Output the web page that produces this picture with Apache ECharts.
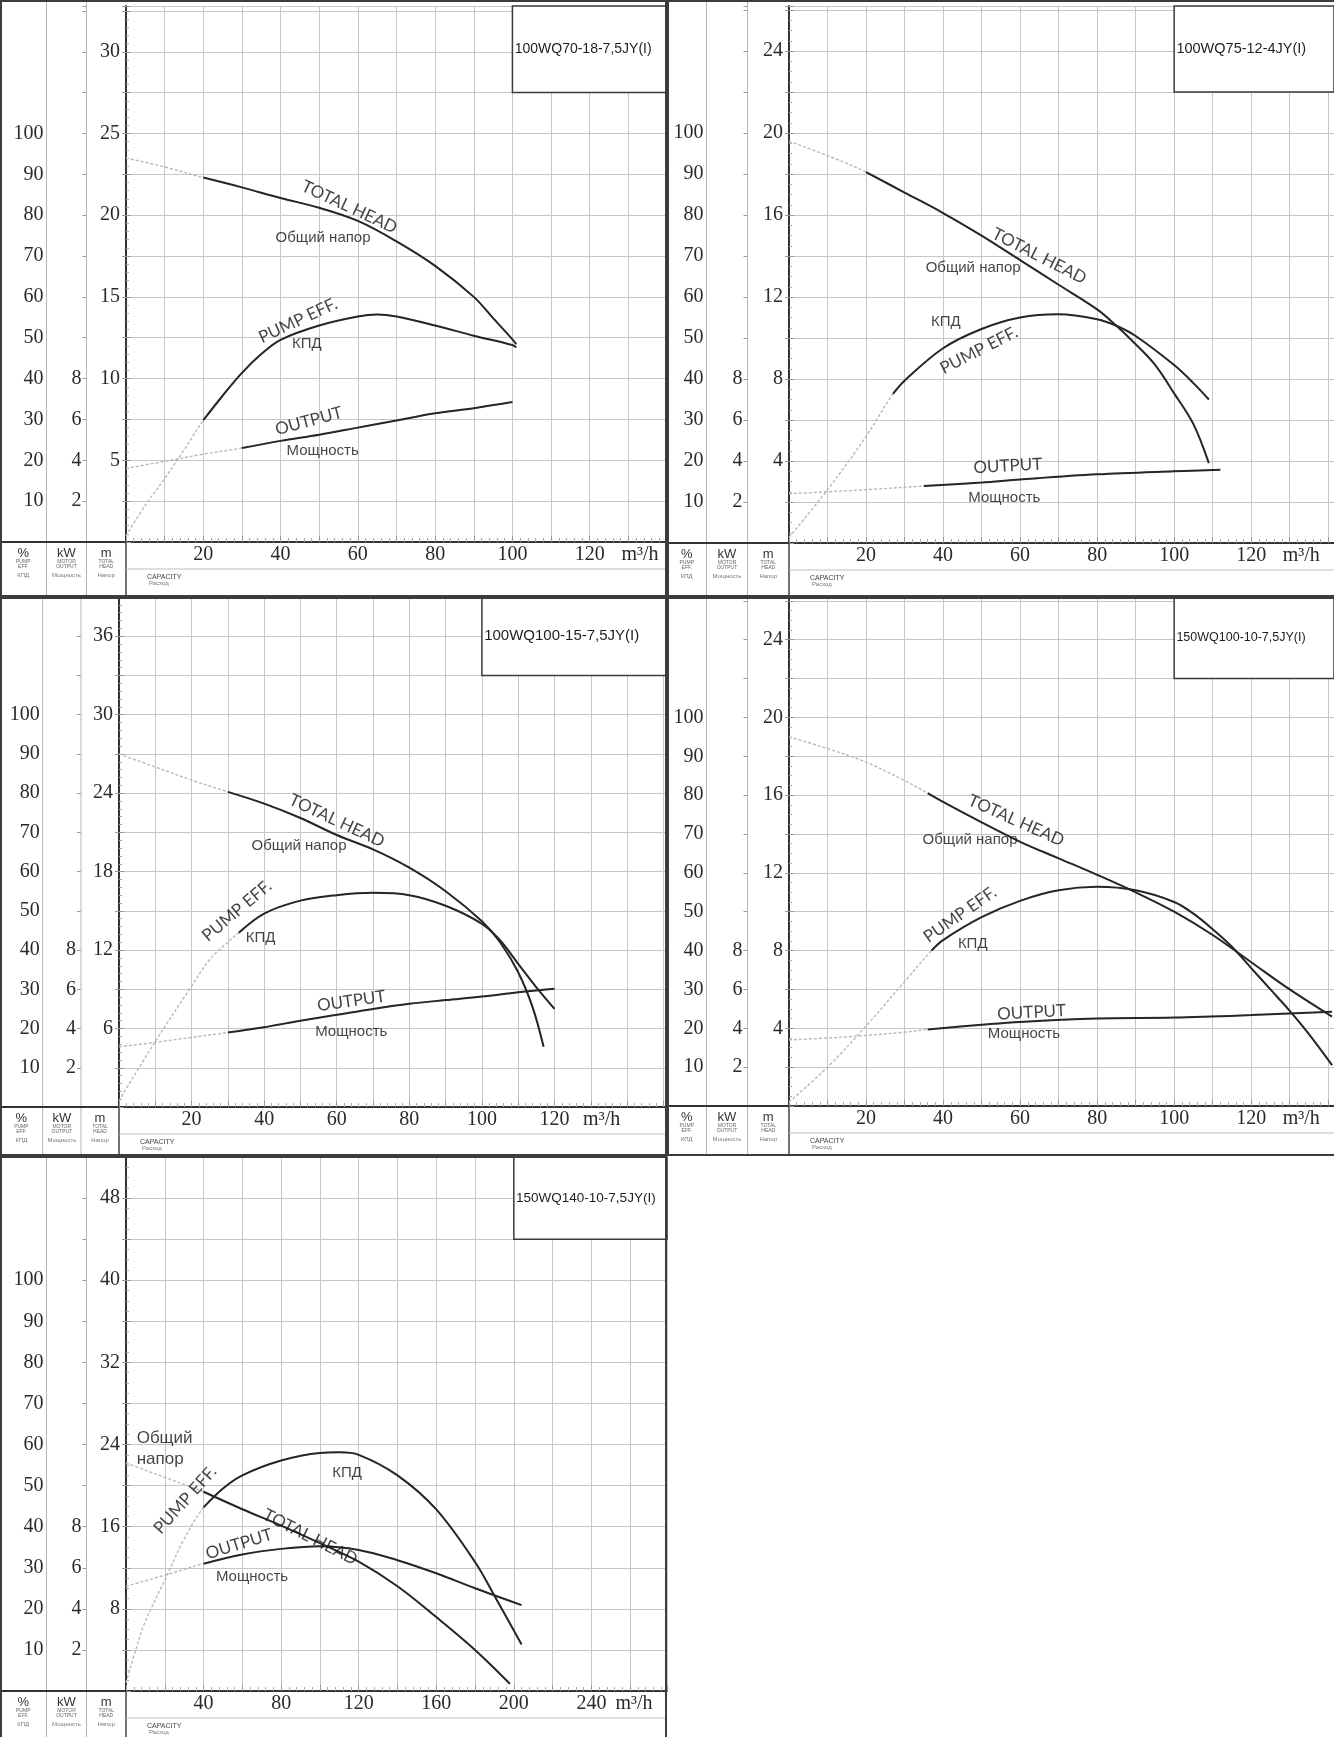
<!DOCTYPE html>
<html><head><meta charset="utf-8">
<script src="https://cdn.jsdelivr.net/npm/echarts@6/dist/echarts.min.js"></script>
<style>html,body{margin:0;padding:0;background:#fff}#c{width:1334px;height:1737px}</style>
</head><body><div id="c"></div>
<script>
// ================= DATA =================
// shared tick labels
const pctTicks = [10,20,30,40,50,60,70,80,90,100];
const kwTicks = [2,4,6,8];

// Panel 1: 100WQ70-18-7,5JY(I)
const p1Model = '100WQ70-18-7,5JY(I)';
const p1HeadQ = [0,10,20,30,40,50,60,70,80,90,95,100,101];
const p1HeadM = [23.5,22.95,22.3,21.7,21.05,20.45,19.65,18.4,16.9,15.0,13.7,12.4,12.1];
const p1EffQ  = [0,5,10,15,20,25,30,35,40,50,60,65,70,80,90,100,101];
const p1EffP  = [1.5,9,15.5,22.5,29.8,35.8,41.4,46,49.5,53,55.2,55.7,55.2,53,50.5,48.2,47.6];
const p1PowQ  = [0,10,20,30,40,50,60,70,80,90,100];
const p1PowK  = [3.6,3.95,4.3,4.6,4.95,5.25,5.6,5.95,6.3,6.55,6.85];
const p1SolidFrom = [20,20,30];           // head, eff, power
const p1XTicks = [20,40,60,80,100,120];
const p1HeadTicks = [5,10,15,20,25,30];

// Panel 2: 100WQ75-12-4JY(I)
const p2Model = '100WQ75-12-4JY(I)';
const p2HeadQ = [0,10,20,30,40,50,60,70,80,85,90,95,100,105,109];
const p2HeadM = [19.6,18.9,18.1,17.1,16.1,15.0,13.8,12.6,11.4,10.6,9.7,8.7,7.3,5.8,3.9];
const p2EffQ  = [0,10,20,27,30,40,50,60,70,80,85,90,100,105,109];
const p2EffP  = [1.4,13,26,36.4,39.6,47.5,52.2,55,55.8,54.6,53,50.5,43.4,39,35];
const p2PowQ  = [0,10,20,35,50,60,80,100,112];
const p2PowK  = [2.4,2.5,2.6,2.78,2.95,3.1,3.35,3.5,3.57];
const p2SolidFrom = [20,27,35];
const p2XTicks = [20,40,60,80,100,120];
const p2HeadTicks = [4,8,12,16,20,24];

// Panel 3: 100WQ100-15-7,5JY(I)
const p3Model = '100WQ100-15-7,5JY(I)';
const p3HeadQ = [0,10,20,30,40,50,60,70,80,90,100,105,110,114,117];
const p3HeadM = [27.0,26.0,25.0,24.1,23.2,22.1,20.8,19.7,18.3,16.5,14.2,12.6,10.3,7.6,4.6];
const p3EffQ  = [0,10,20,25,30,33,40,50,60,70,80,90,100,105,110,115,120];
const p3EffP  = [1.6,16.7,30.8,37.6,42,44.4,49.3,52.6,54,54.6,54,51.3,46.7,42.5,36.5,30.5,25];
const p3PowQ  = [0,10,20,30,40,50,60,70,80,90,100,110,120];
const p3PowK  = [3.07,3.3,3.55,3.8,4.07,4.4,4.7,5.0,5.26,5.45,5.63,5.85,6.03];
const p3SolidFrom = [30,33,30];
const p3XTicks = [20,40,60,80,100,120];
const p3HeadTicks = [6,12,18,24,30,36];

// Panel 4: 150WQ100-10-7,5JY(I)
const p4Model = '150WQ100-10-7,5JY(I)';
const p4HeadQ = [0,10,20,30,36,40,50,60,70,80,90,100,110,120,130,141];
const p4HeadM = [19.0,18.4,17.7,16.75,16.1,15.65,14.6,13.6,12.75,11.9,11.0,10.0,8.8,7.4,6.0,4.6];
const p4EffQ  = [0,10,20,30,37,40,50,60,70,80,90,100,105,110,115,120,125,130,135,141];
const p4EffP  = [1,10,20.6,32,40,42.7,48.6,52.8,55.5,56.4,55.5,52.5,49.5,45.5,41,35.5,30,24.5,18.5,10.5];
const p4PowQ  = [0,10,20,30,36,50,60,80,100,120,141];
const p4PowK  = [3.4,3.5,3.63,3.8,3.94,4.18,4.33,4.5,4.55,4.68,4.85];
const p4SolidFrom = [36,37,36];
const p4XTicks = [20,40,60,80,100,120];
const p4HeadTicks = [4,8,12,16,20,24];

// Panel 5: 150WQ140-10-7,5JY(I)
const p5Model = '150WQ140-10-7,5JY(I)';
const p5HeadQ = [0,10,20,30,40,60,80,100,120,140,160,180,198];
const p5HeadM = [22.2,21.5,20.8,20.1,19.4,17.7,16.1,14.4,12.6,10.2,7.2,4.0,0.7];
const p5EffQ  = [0,5,10,20,30,40,50,60,80,100,110,120,140,160,180,190,204];
const p5EffP  = [2,10,17,27,37,44.7,49.3,52.5,56.1,57.95,58.1,57.5,52.5,44.2,31.4,23.2,11.3];
const p5PowQ  = [0,20,40,60,80,100,120,140,160,180,204];
const p5PowK  = [5.1,5.64,6.2,6.65,6.92,7.05,6.87,6.37,5.73,5.0,4.18];
const p5SolidFrom = [40,40,40];
const p5XTicks = [40,80,120,160,200,240];
const p5HeadTicks = [8,16,24,32,40,48];

// curve annotations: [text, flow, head(m)]
const p1Notes = [['TOTAL HEAD',57.8,20.5],['Общий напор',51,18.6],['PUMP EFF.',44.5,13.55],['КПД',46.8,12.15],['OUTPUT',47.3,7.4],['Мощность',50.9,5.55]];
const p2Notes = [['TOTAL HEAD',65,14.0],['Общий напор',47.8,13.4],['КПД',40.7,10.8],['PUMP EFF.',49.3,9.4],['OUTPUT',56.8,3.76],['Мощность',55.9,2.2]];
const p3Notes = [['TOTAL HEAD',60,21.9],['Общий напор',49.6,20.0],['PUMP EFF.',32.5,15.0],['КПД',39,12.9],['OUTPUT',64,8.1],['Мощность',64,5.75]];
const p4Notes = [['TOTAL HEAD',59,14.7],['Общий напор',47,13.7],['PUMP EFF.',44.4,9.85],['КПД',47.7,8.37],['OUTPUT',63,4.82],['Мощность',61,3.72]];
const p5Notes = [['Общий\nнапор',5.5,23.6],['PUMP EFF.',30.5,18.6],['КПД',114,21.2],['TOTAL HEAD',95,15.0],['OUTPUT',58.3,14.3],['Мощность',65,11.15]];

// ================= LAYOUT / STYLE =================
const rotations = {
  p1: {'TOTAL HEAD':-25,'PUMP EFF.':25,'OUTPUT':15},
  p2: {'TOTAL HEAD':-27,'PUMP EFF.':27,'OUTPUT':3},
  p3: {'TOTAL HEAD':-25,'PUMP EFF.':40,'OUTPUT':8},
  p4: {'TOTAL HEAD':-24,'PUMP EFF.':35,'OUTPUT':3},
  p5: {'TOTAL HEAD':-27,'PUMP EFF.':48,'OUTPUT':17}
};
const panels = [
  {key:'p1', model:p1Model, head:[p1HeadQ,p1HeadM], eff:[p1EffQ,p1EffP], pow:[p1PowQ,p1PowK], solid:p1SolidFrom, xTicks:p1XTicks, headTicks:p1HeadTicks, notes:p1Notes,
   frame:[0,0,667,597], left:126, top:6, width:541, height:536, div:[46.5,86.5],
   xMax:140, xStep:10, unitAt:133, hMax:32.8, hStep:2.5, hMinor:5, pctPerM:4, box:[100,27.5], boxFont:14},
  {key:'p2', model:p2Model, head:[p2HeadQ,p2HeadM], eff:[p2EffQ,p2EffP], pow:[p2PowQ,p2PowK], solid:p2SolidFrom, xTicks:p2XTicks, headTicks:p2HeadTicks, notes:p2Notes,
   frame:[667,0,1340,597], left:789, top:6, width:545, height:537, div:[706.5,747.5],
   xMax:141.5, xStep:10, unitAt:133, hMax:26.2, hStep:2, hMinor:4, pctPerM:5, box:[100,22], boxFont:14.5},
  {key:'p3', model:p3Model, head:[p3HeadQ,p3HeadM], eff:[p3EffQ,p3EffP], pow:[p3PowQ,p3PowK], solid:p3SolidFrom, xTicks:p3XTicks, headTicks:p3HeadTicks, notes:p3Notes,
   frame:[0,597,667,1156], left:119, top:597, width:548, height:510, div:[42.7,81],
   xMax:151, xStep:10, unitAt:133, hMax:39, hStep:3, hMinor:5, pctPerM:10/3, box:[100,33], boxFont:15},
  {key:'p4', model:p4Model, head:[p4HeadQ,p4HeadM], eff:[p4EffQ,p4EffP], pow:[p4PowQ,p4PowK], solid:p4SolidFrom, xTicks:p4XTicks, headTicks:p4HeadTicks, notes:p4Notes,
   frame:[667,597,1340,1156], left:789, top:597, width:545, height:509, div:[706.5,747.5],
   xMax:141.5, xStep:10, unitAt:133, hMax:26.2, hStep:2, hMinor:4, pctPerM:5, box:[100,22], boxFont:12.5},
  {key:'p5', model:p5Model, head:[p5HeadQ,p5HeadM], eff:[p5EffQ,p5EffP], pow:[p5PowQ,p5PowK], solid:p5SolidFrom, xTicks:p5XTicks, headTicks:p5HeadTicks, notes:p5Notes,
   frame:[0,1156,667,1760], left:126, top:1157, width:541, height:534, div:[46.5,86.5],
   xMax:279, xStep:20, unitAt:262, hMax:52, hStep:4, hMinor:4, pctPerM:2.5, box:[200,44], boxFont:13.5}
];

const SERIF = '"Liberation Serif", "DejaVu Serif", serif';
const SANS = '"Liberation Sans", Arial, sans-serif';
const CAL = 'Lato, "Open Sans", sans-serif';
const GRID_C = '#c6c6c6';
const TXT = '#2a2a2a';

function pairs(q, v){ return q.map((x,i)=>[x, v[i]]); }
function fromQ(q, v, s){ return pairs(q, v).filter(p => p[0] >= s); }

const grids = [], xAxes = [], yAxes = [], series = [], gEls = [];

panels.forEach((P, i) => {
  grids.push({left:P.left, top:P.top, width:P.width, height:P.height, containLabel:false, outerBoundsMode:'none'});
  const pctMax = P.hMax * P.pctPerM;
  xAxes.push({
    gridIndex:i, type:'value', min:0, max:P.xMax, interval:P.xStep,
    axisLine:{show:true, onZero:false, lineStyle:{color:'#333', width:2}},
    axisTick:{show:true, inside:true, length:6, lineStyle:{color:'#999'}},
    minorTick:{show:true, splitNumber:5, length:4, lineStyle:{color:'#aaa'}},
    splitLine:{show:true, lineStyle:{color:GRID_C, width:1}},
    axisLabel:{customValues:[...P.xTicks, P.unitAt], formatter:v => v === P.unitAt ? 'm³/h' : String(v),
      fontFamily:SERIF, fontSize:20, color:TXT, margin:3}
  });
  // % axis
  yAxes.push({
    gridIndex:i, type:'value', position:'left', offset:P.left - P.div[0], min:0, max:pctMax, interval:10,
    axisLine:{show:false}, axisTick:{show:true, length:4, lineStyle:{color:'#999'}},
    splitLine:{show:false},
    axisLabel:{customValues:pctTicks, fontFamily:SERIF, fontSize:20, color:TXT, margin:3}
  });
  // kW axis
  yAxes.push({
    gridIndex:i, type:'value', position:'left', offset:P.left - P.div[1], min:0, max:pctMax/5, interval:2,
    axisLine:{show:false}, axisTick:{show:true, length:4, lineStyle:{color:'#999'}},
    splitLine:{show:false},
    axisLabel:{customValues:kwTicks, fontFamily:SERIF, fontSize:20, color:TXT, margin:5}
  });
  // m axis
  yAxes.push({
    gridIndex:i, type:'value', position:'left', offset:0, min:0, max:P.hMax, interval:P.hStep,
    axisLine:{show:true, onZero:false, lineStyle:{color:'#333', width:2}},
    axisTick:{show:true, inside:true, length:5, lineStyle:{color:'#999'}},
    minorTick:{show:true, splitNumber:P.hMinor, length:3, lineStyle:{color:'#aaa'}},
    splitLine:{show:true, lineStyle:{color:GRID_C, width:1}},
    axisLabel:{customValues:P.headTicks, fontFamily:SERIF, fontSize:20, color:TXT, margin:6}
  });

  const curves = [[P.head, 3*i+2, P.solid[0]], [P.eff, 3*i, P.solid[1]], [P.pow, 3*i+1, P.solid[2]]];
  curves.forEach(([c, yi, s]) => {
    series.push({type:'line', xAxisIndex:i, yAxisIndex:yi, data:pairs(c[0], c[1]), smooth:0.35, symbol:'none', silent:true,
      lineStyle:{color:'#b8b8b8', width:1.4, type:[3,2]}, z:3});
    series.push({type:'line', xAxisIndex:i, yAxisIndex:yi, data:fromQ(c[0], c[1], s), smooth:0.35, symbol:'none', silent:true,
      lineStyle:{color:'#262626', width:2}, z:4});
  });

  const rot = rotations[P.key];
  series.push({
    type:'scatter', xAxisIndex:i, yAxisIndex:3*i+2, symbolSize:0, silent:true, z:6,
    data:P.notes.map(n => {
      const isEn = /^[A-Z]/.test(n[0]);
      const multi = n[0].indexOf('\n') >= 0;
      return {value:[n[1], n[2]], label:{show:true, position:'inside', formatter:n[0], rotate:rot[n[0]] || 0,
        fontFamily:isEn ? CAL : SANS, fontSize:isEn ? 17 : (multi ? 17 : 15), color:'#141414',
        align:multi ? 'left' : 'center', lineHeight:21}};
    }),
    markArea:{silent:true, itemStyle:{color:'#fff', borderColor:'#3a3a3a', borderWidth:1.5},
      label:{show:true, position:'insideLeft', distance:3, formatter:P.model, fontFamily:SANS, fontSize:P.boxFont, color:'#1e1e1e'},
      data:[[{coord:[P.box[0], P.box[1]]}, {coord:[P.xMax, P.hMax]}]]}
  });

  // ---- frame & bottom strip decorations ----
  const [fx0, fy0, fx1, fy1] = P.frame;
  const pb = P.top + P.height;
  gEls.push({type:'rect', silent:true, z:50, shape:{x:fx0+1, y:fy0+1, width:fx1-fx0-2, height:fy1-fy0-2}, style:{fill:null, stroke:'#3c3c3c', lineWidth:2}});
  P.div.forEach(d => gEls.push({type:'line', silent:true, z:40, shape:{x1:d, y1:fy0, x2:d, y2:fy1}, style:{stroke:'#b4b4b4', lineWidth:1}}));
  gEls.push({type:'line', silent:true, z:40, shape:{x1:P.left, y1:pb, x2:P.left, y2:fy1}, style:{stroke:'#444', lineWidth:1.5}});
  gEls.push({type:'line', silent:true, z:40, shape:{x1:fx0, y1:pb, x2:P.left, y2:pb}, style:{stroke:'#333', lineWidth:2}});
  gEls.push({type:'line', silent:true, z:40, shape:{x1:P.left, y1:pb+27, x2:fx1, y2:pb+27}, style:{stroke:'#bdbdbd', lineWidth:1}});
  const cols = [(fx0+P.div[0])/2, (P.div[0]+P.div[1])/2, (P.div[1]+P.left)/2];
  const heads = ['%','kW','m'];
  const sub1 = [['PUMP','EFF.'],['MOTOR','OUTPUT'],['TOTAL','HEAD']];
  const sub2 = ['КПД','Мощность','Напор'];
  cols.forEach((cx, k) => {
    gEls.push({type:'text', silent:true, z:45, x:cx, y:pb+11, style:{text:heads[k], font:'13px '+SANS, fill:'#333', align:'center', verticalAlign:'middle', textAlign:'center', textVerticalAlign:'middle'}});
    gEls.push({type:'text', silent:true, z:45, x:cx, y:pb+22, style:{text:sub1[k][0]+'\n'+sub1[k][1], font:'5px '+SANS, lineHeight:5, fill:'#666', align:'center', verticalAlign:'middle', textAlign:'center', textVerticalAlign:'middle'}});
    gEls.push({type:'text', silent:true, z:45, x:cx, y:pb+33, style:{text:sub2[k], font:'6px '+SANS, fill:'#777', align:'center', verticalAlign:'middle', textAlign:'center', textVerticalAlign:'middle'}});
  });
  gEls.push({type:'text', silent:true, z:45, x:P.left+21, y:pb+35, style:{text:'CAPACITY', font:'7px '+SANS, fill:'#444', align:'left', verticalAlign:'middle', textAlign:'left', textVerticalAlign:'middle'}});
  gEls.push({type:'text', silent:true, z:45, x:P.left+23, y:pb+41, style:{text:'Расход', font:'6px '+SANS, fill:'#777', align:'left', verticalAlign:'middle', textAlign:'left', textVerticalAlign:'middle'}});
});

const chart = echarts.init(document.getElementById('c'), null, {renderer:'canvas'});
chart.setOption({
  backgroundColor:'#fff', animation:false,
  grid:grids, xAxis:xAxes, yAxis:yAxes, series:series,
  graphic:{elements:gEls}
});
</script></body></html>
